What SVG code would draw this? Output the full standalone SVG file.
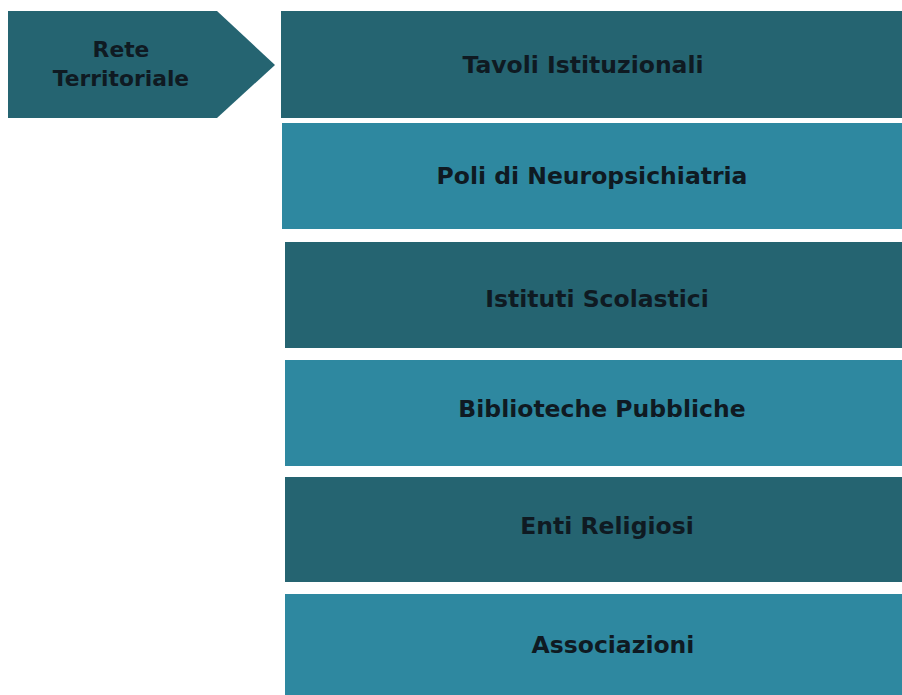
<svg xmlns="http://www.w3.org/2000/svg" width="902" height="695" viewBox="0 0 902 695">
<style>
.dark{fill:#256471}
.light{fill:#2e88a0}
.t{font-family:"DejaVu Sans",Verdana,sans-serif;font-weight:bold;font-size:23.5px;fill:#0f1a22;text-anchor:middle}
.a{font-size:21.8px}
</style>
<rect width="902" height="695" fill="#ffffff"/>
<g id="rete">
<polygon class="dark" points="8,11 217,11 275,65 217,118 8,118"/>
<text class="t a" x="121" y="57">Rete</text>
<text class="t a" x="121" y="86">Territoriale</text>
</g>
<g id="tavoli">
<rect class="dark" x="281" y="11" width="621" height="107"/>
<text class="t" x="583" y="73">Tavoli Istituzionali</text>
</g>
<g id="poli">
<rect class="light" x="282" y="123" width="620" height="106"/>
<text class="t" x="592" y="184">Poli di Neuropsichiatria</text>
</g>
<g id="istituti">
<rect class="dark" x="285" y="242" width="617" height="106"/>
<text class="t" x="597" y="307">Istituti Scolastici</text>
</g>
<g id="biblioteche">
<rect class="light" x="285" y="360" width="617" height="106"/>
<text class="t" x="602" y="417">Biblioteche Pubbliche</text>
</g>
<g id="enti">
<rect class="dark" x="285" y="477" width="617" height="105"/>
<text class="t" x="607" y="534">Enti Religiosi</text>
</g>
<g id="associazioni">
<rect class="light" x="285" y="594" width="617" height="106"/>
<text class="t" x="613" y="653">Associazioni</text>
</g>
<g id="connectors"/>
</svg>
